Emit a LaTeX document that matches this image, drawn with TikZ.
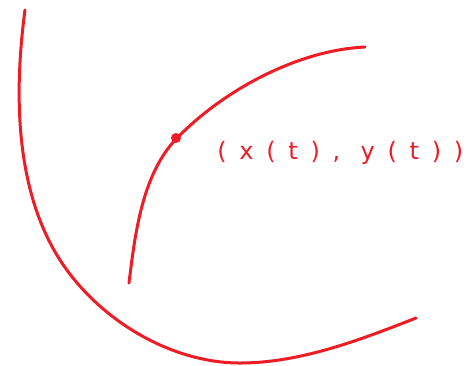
\documentclass[tikz,border=0pt]{standalone}
\usepackage{fontspec}
\newfontfamily\handfont[LetterSpace=53]{DejaVu Sans}
\definecolor{penred}{HTML}{EE1C24}
\begin{document}
\begin{tikzpicture}[x=0.5pt,y=-0.5pt,
  pen/.style={draw=penred,line width=1.5pt,line cap=round,line join=round},
  pointdot/.style={circle,fill=penred,inner sep=0pt,minimum size=5pt},
  lbl/.style={text=penred,font=\handfont\fontsize{12}{14}\selectfont,inner sep=0pt}]
\useasboundingbox[fill=white] (0,0) rectangle (474,365);
% outer curve
\draw[pen] (25,10) .. controls (13,100) and (17,193) .. (60,260)
  .. controls (98,319) and (170,363) .. (240,363)
  .. controls (300,363) and (360,340) .. (416,318);
% inner curve
\draw[pen] (129,283) .. controls (135,234) and (142,174) .. (177,138)
  .. controls (226,88) and (300,50) .. (365,47);
\node[pointdot] (p) at (176,138) {};
\node[lbl,anchor=west] (lab) at (217,153) {(x(t), y(t))};
\end{tikzpicture}
\end{document}
